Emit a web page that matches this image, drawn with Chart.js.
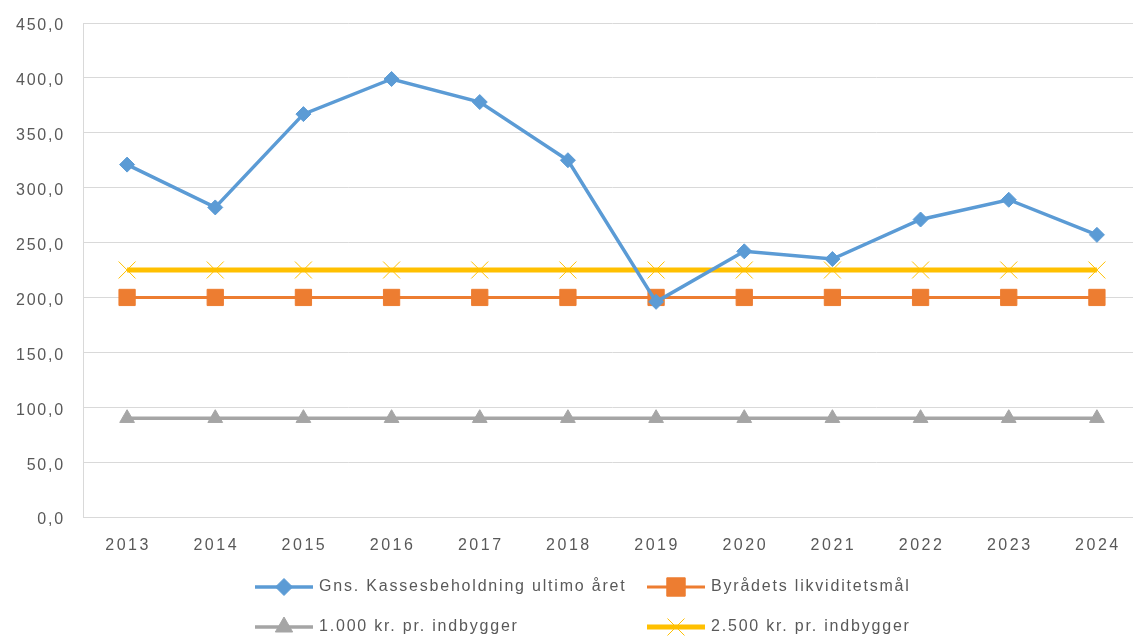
<!DOCTYPE html>
<html>
<head>
<meta charset="utf-8">
<script src="https://cdn.jsdelivr.net/npm/chart.js@4"></script>
<style>
html,body{margin:0;padding:0;background:#fff;overflow:hidden;width:1133px;height:637px;}
#wrap{position:absolute;left:0;top:0;width:1154px;height:637px;}
</style>
</head>
<body>
<div id="wrap"><canvas id="c" width="1154" height="637"></canvas></div>
<script>
const categories = ['2013','2014','2015','2016','2017','2018','2019','2020','2021','2022','2023','2024'];
const seriesNames = ['Gns. Kassesbeholdning ultimo året','Byrådets likviditetsmål','1.000 kr. pr. indbygger','2.500 kr. pr. indbygger'];
const kassebeholdning = [321, 282, 367, 399, 378, 325, 196, 242, 235, 271, 289, 257];
const likviditetsmaal = [200, 200, 200, 200, 200, 200, 200, 200, 200, 200, 200, 200];
const kr1000 = [90, 90, 90, 90, 90, 90, 90, 90, 90, 90, 90, 90];
const kr2500 = [225, 225, 225, 225, 225, 225, 225, 225, 225, 225, 225, 225];
const yTicks = [0, 50, 100, 150, 200, 250, 300, 350, 400, 450];

const FONT = '"Liberation Sans", "DejaVu Sans", sans-serif';
const TXT = '#595959';
const legendRadius = [8.5, 13, 10, 12];

const drawPlugin = {
  id: 'customDraw',
  afterDraw(chart) {
    const ctx = chart.ctx;
    const xs = chart.scales.x;
    const ys = chart.scales.y;
    // x labels
    ctx.save();
    ctx.font = '16px ' + FONT;
    ctx.fillStyle = TXT;
    ctx.textAlign = 'center';
    ctx.textBaseline = 'middle';
    ctx.letterSpacing = '2.5px';
    categories.forEach((c, i) => {
      ctx.fillText(c, xs.getPixelForValue(i) + 1, 546);
    });
    ctx.restore();
    // y labels
    ctx.save();
    ctx.font = '16px ' + FONT;
    ctx.fillStyle = TXT;
    ctx.textAlign = 'right';
    ctx.textBaseline = 'middle';
    ctx.letterSpacing = '1.8px';
    yTicks.forEach(v => {
      ctx.fillText(v.toFixed(1).replace('.', ','), 65, ys.getPixelForValue(v) + 3);
    });
    ctx.restore();
    // legend
    const pos = [[255, 587], [647, 587], [255, 627], [647, 627]];
    chart.data.datasets.forEach((ds, i) => {
      const [x0, y] = pos[i];
      ctx.save();
      ctx.strokeStyle = ds.borderColor;
      ctx.lineWidth = ds.borderWidth;
      ctx.beginPath();
      ctx.moveTo(x0, y);
      ctx.lineTo(x0 + 58, y);
      ctx.stroke();
      ctx.fillStyle = ds.pointBackgroundColor;
      ctx.strokeStyle = ds.pointBorderColor;
      ctx.lineWidth = ds.pointBorderWidth;
      Chart.helpers.drawPoint(ctx, {
        pointStyle: ds.pointStyle,
        radius: legendRadius[i],
        borderWidth: ds.pointBorderWidth,
        rotation: 0
      }, x0 + 29, y);
      ctx.restore();
      ctx.save();
      ctx.font = '16px ' + FONT;
      ctx.fillStyle = TXT;
      ctx.textAlign = 'left';
      ctx.textBaseline = 'middle';
      ctx.letterSpacing = '1.8px';
      ctx.fillText(ds.label, x0 + 64, y);
      ctx.restore();
    });
  }
};

function mk(label, data, color, width, style, radius, pbw) {
  return {
    label, data,
    borderColor: color,
    backgroundColor: color,
    borderWidth: width,
    pointStyle: style,
    pointRadius: radius,
    pointHoverRadius: radius,
    pointBorderWidth: pbw,
    pointBackgroundColor: color,
    pointBorderColor: color,
    tension: 0,
    fill: false
  };
}

new Chart(document.getElementById('c'), {
  type: 'line',
  data: {
    labels: categories,
    datasets: [
      mk(seriesNames[0], kassebeholdning, '#5B9BD5', 3.5, 'rectRot', 7.5, 1),
      mk(seriesNames[1], likviditetsmaal, '#ED7D31', 3, 'rect', 11.5, 1),
      mk(seriesNames[2], kr1000, '#A5A5A5', 3.5, 'triangle', 8.5, 1),
      mk(seriesNames[3], kr2500, '#FFC000', 5, 'crossRot', 12, 1)
    ]
  },
  options: {
    responsive: false,
    animation: false,
    layout: { padding: { top: 23, right: 5, bottom: 0, left: 0 } },
    plugins: { legend: { display: false }, tooltip: { enabled: false } },
    scales: {
      x: {
        offset: true,
        grid: { display: false, drawTicks: false },
        border: { display: true, color: '#D9D9D9', width: 1 },
        ticks: { display: false },
        afterFit(s) { s.height = 120; }
      },
      y: {
        min: 0, max: 450,
        afterBuildTicks(s) { s.ticks = yTicks.map(v => ({ value: v })); },
        grid: { color: '#D9D9D9', lineWidth: 1, drawTicks: false },
        border: { display: true, color: '#D9D9D9', width: 1 },
        ticks: { display: false },
        afterFit(s) { s.width = 83; }
      }
    }
  },
  plugins: [drawPlugin]
});
</script>
</body>
</html>
